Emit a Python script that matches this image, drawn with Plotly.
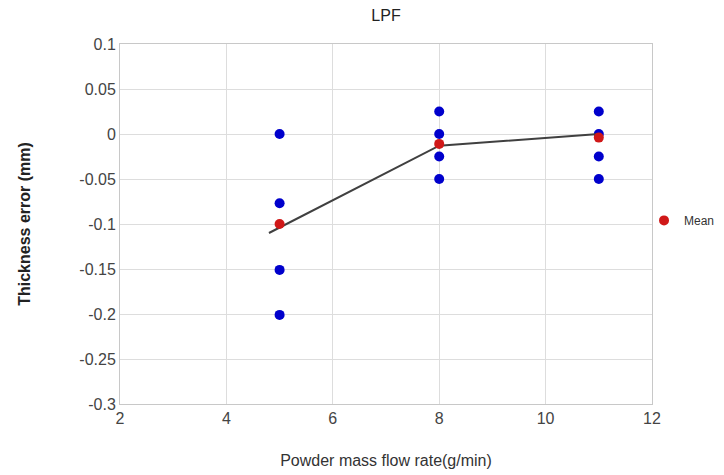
import plotly.graph_objects as go

# Data
rates = [5, 5, 5, 5, 8, 8, 8, 8, 11, 11, 11, 11]
errors = [0.0, -0.077, -0.151, -0.201,
          0.025, 0.0, -0.025, -0.05,
          0.025, 0.0, -0.025, -0.05]
mean_rates = [5, 8, 11]
mean_errors = [-0.1, -0.011, -0.004]
line_x = [4.8, 8, 11]
line_y = [-0.11, -0.013, 0.0]
x_ticks = [2, 4, 6, 8, 10, 12]
y_ticks = [0.1, 0.05, 0, -0.05, -0.1, -0.15, -0.2, -0.25, -0.3]
y_labels = ["0.1", "0.05", "0", "-0.05", "-0.1", "-0.15", "-0.2", "-0.25", "-0.3"]

fig = go.Figure()
fig.add_trace(go.Scatter(x=rates, y=errors, mode="markers",
                         marker=dict(color="#0000CC", size=10), showlegend=False))
fig.add_trace(go.Scatter(x=line_x, y=line_y, mode="lines",
                         line=dict(color="#404040", width=2), showlegend=False))
fig.add_trace(go.Scatter(x=mean_rates, y=mean_errors, mode="markers", name="Mean",
                         marker=dict(color="#D01818", size=10)))

font = "Liberation Sans, Arial, sans-serif"
fig.update_layout(
    width=724, height=475,
    margin=dict(l=120, r=72, t=44, b=71, autoexpand=False),
    paper_bgcolor="white", plot_bgcolor="white",
    font=dict(family=font, color="#404040", size=14),
    title=dict(text="LPF", x=0.5, xref="paper", y=0.968, yref="container",
               yanchor="middle", automargin=False,
               font=dict(size=16, color="#222222")),
    legend=dict(x=0.985, y=0.51, xanchor="left", yanchor="middle",
                font=dict(size=12, color="#333333"), itemwidth=30,
                bgcolor="rgba(0,0,0,0)"),
    xaxis=dict(range=[2, 12], tickvals=x_ticks, showgrid=True, gridcolor="#DDDDDD",
               zeroline=False, showline=True, linecolor="#C8C8C8", mirror=True,
               ticks="", automargin=False, tickfont=dict(size=16, color="#444444"),
               title=dict(text="Powder mass flow rate(g/min)", standoff=28,
                          font=dict(size=16, color="#333333"))),
    yaxis=dict(range=[-0.3, 0.1], tickvals=y_ticks, ticktext=y_labels, showgrid=True,
               gridcolor="#DDDDDD", zeroline=False, showline=True, linecolor="#C8C8C8",
               mirror=True, ticks="", automargin=False,
               tickfont=dict(size=16, color="#444444"),
               title=dict(text="<b>Thickness error (mm)</b>", standoff=44,
                          font=dict(size=16, color="#222222"))),
)
fig.write_html("out.html", config={"displayModeBar": False},
               post_script="document.body.style.margin='0';")
